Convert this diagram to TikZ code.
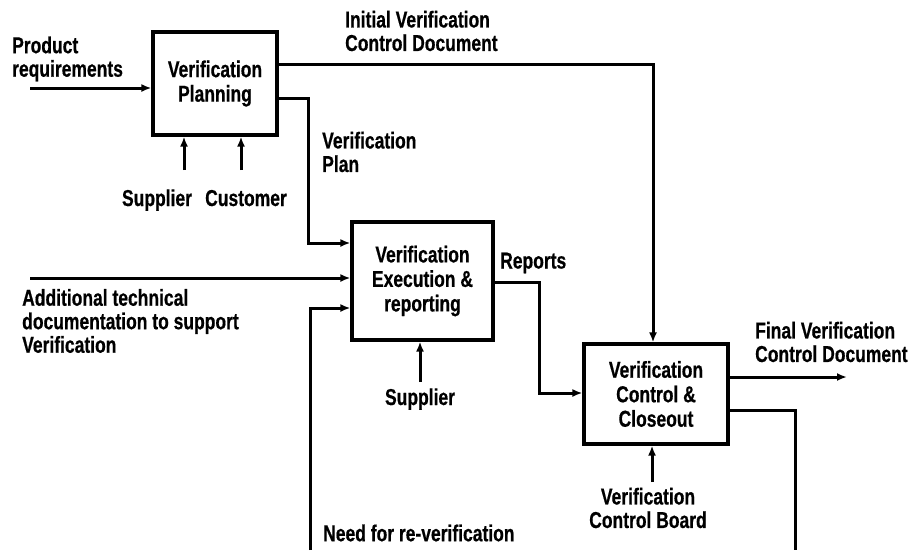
\documentclass[tikz,border=0pt]{standalone}
\usepackage{fontspec}
\setmainfont{Liberation Sans}[FakeStretch=0.76, FakeBold=0.6]
\usetikzlibrary{arrows.meta}

\begin{document}
\begin{tikzpicture}[x=1pt,y=-1pt]
\useasboundingbox (0,0) rectangle (912,550);

\coordinate (In_1) at (30, 88);
\coordinate (In_2) at (30, 278);
\coordinate (Init_1) at (653, 64);
\coordinate (Plan_1) at (308, 98);
\coordinate (Plan_2) at (308, 243);
\coordinate (Sup_1) at (184, 170);
\coordinate (Sup_2) at (241, 170);
\coordinate (Sup_3) at (420, 382);
\coordinate (Rep_1) at (539, 282);
\coordinate (Rep_2) at (539, 393);
\coordinate (Out_1) at (847, 377);
\coordinate (Board_1) at (652, 482);
\coordinate (Loop_1) at (795, 410);
\coordinate (Loop_2) at (795, 550);
\coordinate (Loop_3) at (310, 550);
\coordinate (Loop_4) at (310, 308);


\tikzset{BoxStyle/.style = {
 draw,
 line width = 3.2pt,
 align = center,
 inner sep = 0pt,
 font = \fontsize{23}{24.5}\selectfont\bfseries} }

\node[BoxStyle, minimum width=124pt, minimum height=103pt] (plan) at (215, 83.5) {Verification\\Planning};
\node[BoxStyle, minimum width=141pt, minimum height=118pt] (exec) at (422.5, 281) {Verification\\Execution \&\\reporting};
\node[BoxStyle, minimum width=144pt, minimum height=100pt] (close) at (656, 394) {Verification\\Control \&\\Closeout};


\tikzset{LabelStyle/.style = {
 align = left,
 inner sep = 0pt,
 font = \fontsize{23}{23.5}\selectfont\bfseries} }

\node[LabelStyle, anchor=west] (L1) at (12, 59) {Product\\requirements};
\node[LabelStyle, anchor=west] (L2) at (345, 31) {Initial Verification\\Control Document};
\node[LabelStyle, anchor=west] (L3) at (322, 152) {Verification\\Plan};
\node[LabelStyle, anchor=base] (L4) at (157, 206) {Supplier};
\node[LabelStyle, anchor=base] (L5) at (246, 206) {Customer};
\node[LabelStyle, anchor=west] (L6) at (22, 321) {Additional technical\\documentation to support\\Verification};
\node[LabelStyle, anchor=base] (L7) at (420, 405) {Supplier};
\node[LabelStyle, anchor=west] (L8) at (500, 263) {Reports};
\node[LabelStyle, anchor=west] (L9) at (755, 342) {Final Verification\\Control Document};
\node[LabelStyle, align=center] (L10) at (648, 508) {Verification\\Control Board};
\node[LabelStyle, anchor=west] (L11) at (323, 533) {Need for re-verification};


\tikzset{FlowStyle/.style = {line width=3pt, -{Latex[length=10pt,width=8pt]}} }
\tikzset{LineStyle/.style = {line width=3pt} }

\draw[FlowStyle] (In_1) -- (In_1 -| plan.west);
\draw[FlowStyle] (plan.east |- Init_1) -- (Init_1) -- (close.north -| Init_1);
\draw[FlowStyle] (plan.east |- Plan_1) -- (Plan_1) -- (Plan_2) -- (exec.west |- Plan_2);
\draw[FlowStyle] (Sup_1) -- (plan.south -| Sup_1);
\draw[FlowStyle] (Sup_2) -- (plan.south -| Sup_2);
\draw[FlowStyle] (In_2) -- (In_2 -| exec.west);
\draw[FlowStyle] (Loop_3) -- (Loop_4) -- (exec.west |- Loop_4);
\draw[FlowStyle] (Sup_3) -- (exec.south -| Sup_3);
\draw[FlowStyle] (exec.east |- Rep_1) -- (Rep_1) -- (Rep_2) -- (close.west |- Rep_2);
\draw[FlowStyle] (close.east |- Out_1) -- (Out_1);
\draw[FlowStyle] (Board_1) -- (close.south -| Board_1);
\draw[LineStyle] (close.east |- Loop_1) -- (Loop_1) -- (Loop_2);

\end{tikzpicture}
\end{document}
